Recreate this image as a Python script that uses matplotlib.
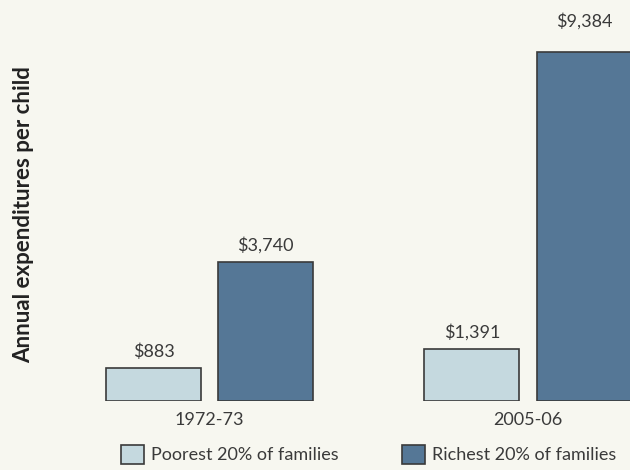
import matplotlib.pyplot as plt
from matplotlib.patches import Patch

# data
years = ["1972-73", "2005-06"]
poorest = [883, 1391]
richest = [3740, 9384]
series_names = ["Poorest 20% of families", "Richest 20% of families"]

light = "#c5d9df"
dark = "#557796"
edge = "#3a3a3a"
bg = "#f7f7f0"
txt = "#3a3a3a"

plt.rcParams["font.family"] = ["Lato", "DejaVu Sans"]

fig = plt.figure(figsize=(6.3, 4.7), dpi=100, facecolor=bg)
ax = fig.add_axes([0, 69 / 470, 1, 401 / 470])
ax.set_facecolor(bg)

width = 0.298
offset = 0.176
x = range(len(years))

b1 = ax.bar([i - offset for i in x], poorest, width, color=light,
            edgecolor=edge, linewidth=1.2)
b2 = ax.bar([i + offset for i in x], richest, width, color=dark,
            edgecolor=edge, linewidth=1.2)

# the tallest label sits a bit higher above its bar in the original
pads = ([6, 6], [6, 16])
for bars, vals, pad in ((b1, poorest, pads[0]), (b2, richest, pads[1])):
    for bar, v, p in zip(bars, vals, pad):
        ax.annotate(f"${v:,}", (bar.get_x() + bar.get_width() / 2, v),
                    xytext=(0, p), textcoords="offset points",
                    ha="center", va="bottom", fontsize=13, color=txt)

ax.set_xlim(-0.6578, 1.3203)
ax.set_ylim(0, 10782)
for s in ax.spines.values():
    s.set_visible(False)
ax.set_yticks([])
ax.set_xticks(list(x))
ax.set_xticklabels(years, fontsize=13, color=txt)
ax.tick_params(axis="x", length=0, pad=8)

fig.text(0.038, 1 - 215 / 470, "Annual expenditures per child",
         rotation=90, ha="center", va="center", fontsize=16,
         fontweight="bold", color="#222222")

handles = [Patch(facecolor=light, edgecolor=edge, linewidth=1.2),
           Patch(facecolor=dark, edgecolor=edge, linewidth=1.2)]
fig.legend(handles, series_names, loc="lower center",
           bbox_to_anchor=(0.5855, -0.022), ncol=2, frameon=False,
           fontsize=13, handlelength=1.27, handleheight=1.27,
           handletextpad=0.4, columnspacing=3.5, labelcolor=txt)

fig.savefig("out.png", dpi=100, facecolor=bg)
